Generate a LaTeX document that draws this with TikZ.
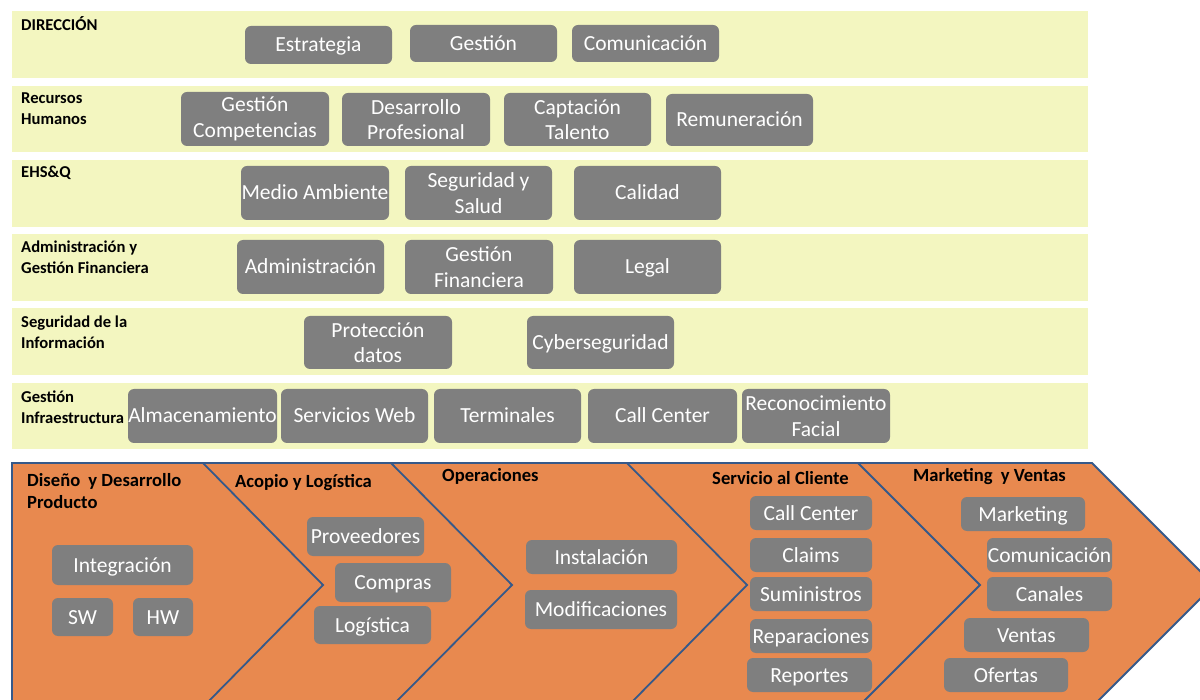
\documentclass[tikz,border=0pt]{standalone}
\usepackage{fontspec}
\setmainfont{Carlito}
\definecolor{bandyellow}{HTML}{F3F6C0}
\definecolor{boxgrey}{HTML}{7F7F7F}
\definecolor{chevorange}{HTML}{E8894F}
\definecolor{chevblue}{HTML}{35598A}
\begin{document}
\begin{tikzpicture}[x=1pt,y=-1pt,
  band/.style={fill=bandyellow, draw=none},
  gbox/.style 2 args={fill=boxgrey, rounded corners=6pt, text=white,
    minimum width=#1pt, minimum height=#2pt, inner sep=0pt,
    font=\fontsize{21.5}{25.5}\selectfont, align=center},
  one/.style={text height=16pt, text depth=2pt},
  lbl/.style={anchor=base west, inner sep=0pt, font=\bfseries\fontsize{16.6}{21}\selectfont},
  ttl/.style={anchor=base west, inner sep=0pt, font=\bfseries\fontsize{18.6}{22}\selectfont},
  chev/.style={draw=chevblue, line width=1.8pt, line join=miter}]
\useasboundingbox (0,0) rectangle (1200,700);

% support activity bands
\fill[band] (12,11) rectangle (1088,78);
\fill[band] (12,86) rectangle (1088,152);
\fill[band] (12,160) rectangle (1088,227);
\fill[band] (12,234) rectangle (1088,301);
\fill[band] (12,308) rectangle (1088,375);
\fill[band] (12,383) rectangle (1088,449);

\node[lbl] (lDir) at (21,31) {\parbox[t]{6cm}{DIRECCIÓN}};
\node[lbl] (lRH)  at (21,104) {\parbox[t]{6cm}{Recursos\\Humanos}};
\node[lbl] (lEHS) at (21,178) {\parbox[t]{6cm}{EHS\&Q}};
\node[lbl] (lAdm) at (21,253) {\parbox[t]{6cm}{Administración y\\Gestión Financiera}};
\node[lbl] (lSeg) at (21,328) {\parbox[t]{6cm}{Seguridad de la\\Información}};
\node[lbl] (lInf) at (21,403) {\parbox[t]{6cm}{Gestión\\Infraestructura}};

% Dirección
\node[gbox={147}{38},one] (estr) at (318.5,45) {Estrategia};
\node[gbox={147}{37},one] (gest) at (483.5,43.5) {Gestión};
\node[gbox={147}{37},one] (comu) at (645.5,43.5) {Comunicación};
% Recursos Humanos
\node[gbox={148}{54}] (gcomp) at (255,119) {Gestión\\Competencias};
\node[gbox={148}{53}] (desa) at (416,119.5) {Desarrollo\\Profesional};
\node[gbox={147}{53}] (capt) at (577.5,119.5) {Captación\\Talento};
\node[gbox={147}{52},one] (remu) at (739.5,120) {Remuneración};
% EHS&Q
\node[gbox={148}{54},one] (medi) at (315,193) {Medio Ambiente};
\node[gbox={147}{54}] (segu) at (478.5,193) {Seguridad y\\Salud};
\node[gbox={147}{54},one] (cali) at (647.5,193) {Calidad};
% Administración
\node[gbox={147}{54},one] (admi) at (310.5,267) {Administración};
\node[gbox={148}{54}] (gfin) at (479,267) {Gestión\\Financiera};
\node[gbox={147}{54},one] (lega) at (647.5,267) {Legal};
% Seguridad de la información
\node[gbox={148}{53}] (prot) at (378,342.5) {Protección\\datos};
\node[gbox={147}{53},one] (cybe) at (600.5,342.5) {Cyberseguridad};
% Infraestructura
\node[gbox={149}{54},one] (alma) at (202.5,416) {Almacenamiento};
\node[gbox={147}{54},one] (serv) at (354.5,416) {Servicios Web};
\node[gbox={147}{54},one] (term) at (507.5,416) {Terminales};
\node[gbox={149}{54},one] (call) at (662.5,416) {Call Center};
\node[gbox={148}{54}] (reco) at (816,416) {Reconocimiento\\Facial};

% primary activity chevrons
\begin{scope}
\clip (0,0) rectangle (1200,700);
\fill[chevorange] (12,463) -- (1092,463) -- (1214,585) -- (1092,707) -- (12,707) -- cycle;
\draw[chev] (12,707) -- (12,463) -- (1092,463) -- (1214,585) -- (1092,707) -- cycle;
\draw[chev] (203,463) -- (323,585) -- (203,707);
\draw[chev] (391,463) -- (512,585) -- (391,707);
\draw[chev] (627,463) -- (747,585) -- (627,707);
\draw[chev] (858,463) -- (980,585) -- (858,707);
\end{scope}

\node[ttl] (tDis) at (27,486) {\parbox[t]{6cm}{Diseño\hspace{4pt} y Desarrollo\\Producto}};
\node[ttl] (tAco) at (235,487) {Acopio y Logística};
\node[ttl] (tOpe) at (442,482) {Operaciones};
\node[ttl] (tSer) at (712,485) {Servicio al Cliente};
\node[ttl] (tMar) at (913,482) {Marketing\hspace{4pt} y Ventas};

% Diseño y Desarrollo
\node[gbox={141}{40},one] (inte) at (122.5,565) {Integración};
\node[gbox={61}{38},one] (sw) at (82.5,617) {SW};
\node[gbox={60}{38},one] (hw) at (163,617) {HW};
% Acopio y Logística
\node[gbox={117}{39},one] (prov) at (365.5,536.5) {Proveedores};
\node[gbox={116}{39},one] (comp) at (393,582.5) {Compras};
\node[gbox={117}{38},one] (logi) at (372.5,625) {Logística};
% Operaciones
\node[gbox={151}{34},one] (inst) at (601.5,557) {Instalación};
\node[gbox={152}{39},one] (modi) at (601,609.5) {Modificaciones};
% Servicio al Cliente
\node[gbox={122}{34},one] (callc) at (811,513) {Call Center};
\node[gbox={122}{34},one] (clai) at (811,555) {Claims};
\node[gbox={122}{34},one] (sumi) at (811,594) {Suministros};
\node[gbox={122}{34},one] (repa) at (811,636) {Reparaciones};
\node[gbox={125}{34},one] (repo) at (809.5,675) {Reportes};
% Marketing y Ventas
\node[gbox={124}{34},one] (mark) at (1023,514) {Marketing};
\node[gbox={125}{34},one] (comv) at (1049.5,555) {Comunicación};
\node[gbox={125}{34},one] (cana) at (1049.5,594) {Canales};
\node[gbox={125}{34},one] (vent) at (1026.5,635) {Ventas};
\node[gbox={124}{34},one] (ofer) at (1006,675) {Ofertas};
\end{tikzpicture}
\end{document}
